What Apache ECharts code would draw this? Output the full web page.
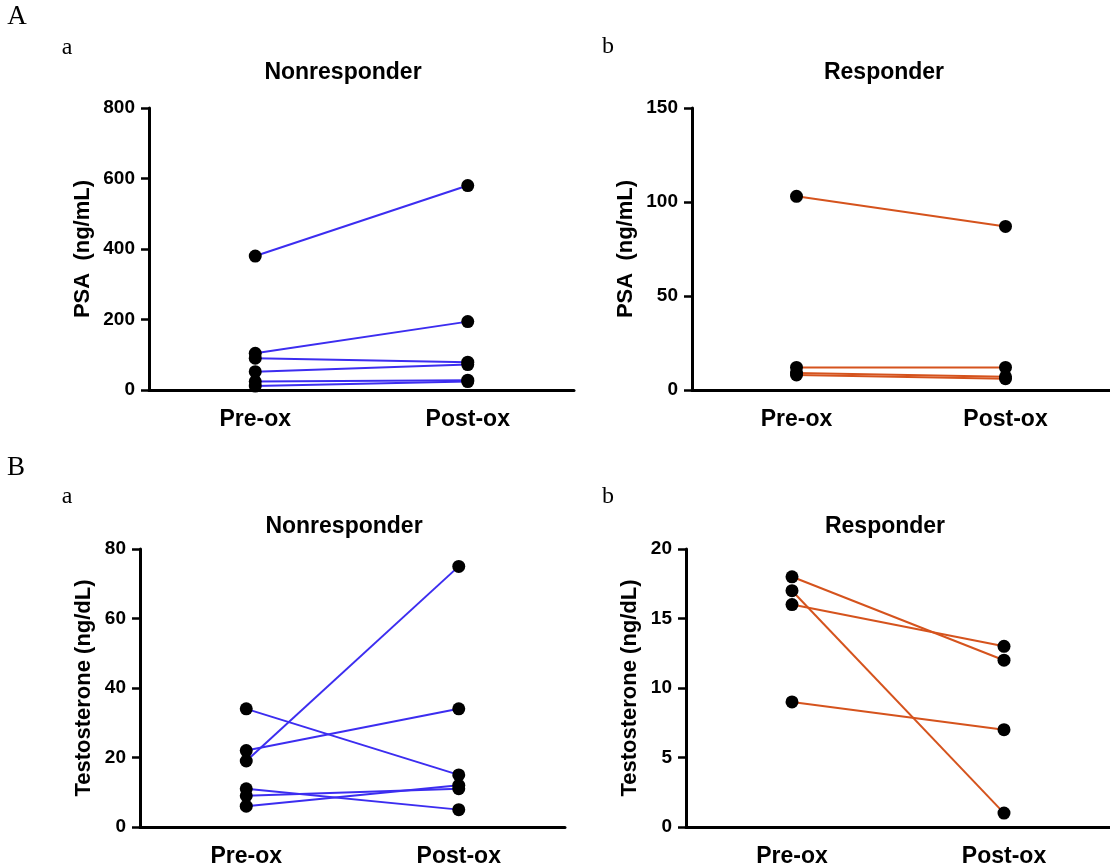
<!DOCTYPE html>
<html>
<head>
<meta charset="utf-8">
<script src="https://cdn.jsdelivr.net/npm/echarts@6/dist/echarts.min.js"></script>
<style>
  html, body { margin: 0; padding: 0; background: #fff; }
  #chart { width: 1110px; height: 868px; }
</style>
</head>
<body>
<div id="chart"></div>
<script>
// paired values: [Pre-ox, Post-ox] per patient
const categories = ["Pre-ox", "Post-ox"];
const psaNonresponder = [[380, 580], [104, 194], [90, 79], [52, 72], [24, 28], [11, 24]];
const psaResponder = [[103, 87], [12, 12], [9, 7], [8, 6]];
const testoNonresponder = [[19, 75], [22, 34], [34, 15], [11, 5], [9, 11], [6, 12]];
const testoResponder = [[18, 12], [17, 1], [16, 13], [9, 7]];

const psaNonTicks = [0, 800, 200];
const psaResTicks = [0, 150, 50];
const testoNonTicks = [0, 80, 20];
const testoResTicks = [0, 20, 5];

const blue = "#3c2df0";
const orange = "#d5531d";
const font = "Liberation Sans";

const panels = [
  { left: 149, top: 108, width: 425, height: 282, ticks: psaNonTicks, name: "PSA  (ng/mL)", data: psaNonresponder, color: blue, nameGap: 55 },
  { left: 692, top: 108, width: 425, height: 282, ticks: psaResTicks, name: "PSA  (ng/mL)", data: psaResponder, color: orange, nameGap: 55 },
  { left: 140, top: 549, width: 425, height: 283, ticks: testoNonTicks, name: "Testosterone (ng/dL)", data: testoNonresponder, color: blue, nameGap: 45 },
  { left: 686, top: 549, width: 425, height: 284, ticks: testoResTicks, name: "Testosterone (ng/dL)", data: testoResponder, color: orange, nameGap: 45 },
];

const grid = [];
const xAxis = [];
const yAxis = [];
const series = [];

panels.forEach((p, i) => {
  grid.push({ left: p.left, top: p.top, width: p.width, height: p.height });
  xAxis.push({
    type: "category",
    gridIndex: i,
    data: categories,
    boundaryGap: true,
    axisLine: { lineStyle: { color: "#000", width: 3 } },
    axisTick: { alignWithLabel: true, length: 8, lineStyle: { color: "#000", width: 2.5 } },
    axisLabel: { color: "#000", fontFamily: font, fontWeight: "bold", fontSize: 23, margin: 18 },
    splitLine: { show: false },
  });
  yAxis.push({
    type: "value",
    gridIndex: i,
    min: p.ticks[0],
    max: p.ticks[1],
    interval: p.ticks[2],
    name: p.name,
    nameLocation: "middle",
    nameGap: p.nameGap,
    nameTextStyle: { color: "#000", fontFamily: font, fontWeight: "bold", fontSize: 22 },
    axisLine: { show: true, lineStyle: { color: "#000", width: 3 } },
    axisTick: { show: true, length: 8, lineStyle: { color: "#000", width: 2.5 } },
    axisLabel: { color: "#000", fontFamily: font, fontWeight: "bold", fontSize: 19, margin: 14 },
    splitLine: { show: false },
  });
  p.data.forEach(pair => {
    series.push({
      type: "line",
      xAxisIndex: i,
      yAxisIndex: i,
      data: pair,
      showSymbol: false,
      lineStyle: { color: p.color, width: 2 },
      silent: true,
      z: 2,
    });
  });
  const dots = [];
  p.data.forEach(pair => {
    dots.push([categories[0], pair[0]]);
    dots.push([categories[1], pair[1]]);
  });
  series.push({
    type: "scatter",
    xAxisIndex: i,
    yAxisIndex: i,
    data: dots,
    symbol: "circle",
    symbolSize: 13,
    itemStyle: { color: "#000", opacity: 1 },
    z: 3,
  });
});

function label(text, x, y, size, family, weight) {
  return {
    type: "text",
    x: x,
    y: y,
    style: {
      text: text,
      fill: "#000",
      font: weight + " " + size + "px \"" + family + "\"",
      textAlign: "center",
      textVerticalAlign: "middle",
    },
  };
}

const graphic = [
  label("A", 17, 17, 27, "Liberation Serif", "normal"),
  label("a", 67, 48, 24, "Liberation Serif", "normal"),
  label("b", 608, 47, 24, "Liberation Serif", "normal"),
  label("B", 16, 468, 27, "Liberation Serif", "normal"),
  label("a", 67, 497, 24, "Liberation Serif", "normal"),
  label("b", 608, 497, 24, "Liberation Serif", "normal"),
  label("Nonresponder", 343, 73, 23, font, "bold"),
  label("Responder", 884, 73, 23, font, "bold"),
  label("Nonresponder", 344, 527, 23, font, "bold"),
  label("Responder", 885, 527, 23, font, "bold"),
];

const chart = echarts.init(document.getElementById("chart"));
chart.setOption({
  animation: false,
  backgroundColor: "#fff",
  grid: grid,
  xAxis: xAxis,
  yAxis: yAxis,
  series: series,
  graphic: graphic,
});
</script>
</body>
</html>
